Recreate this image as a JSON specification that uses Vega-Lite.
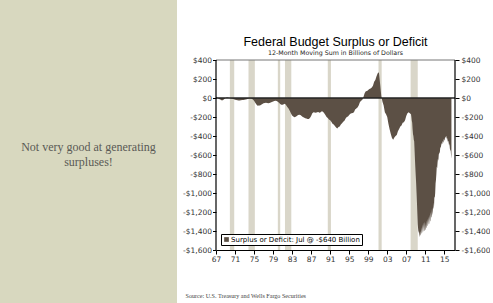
{
  "$schema": "https://vega.github.io/schema/vega-lite/v6.json",
  "padding": 0,
  "background": "white",
  "spacing": 39,
  "bounds": "flush",
  "center": true,
  "resolve": {"legend": {"color": "independent"}},
  "config": {
    "view": {"stroke": null},
    "axis": {"labelFont": "DejaVu Sans", "labelFontSize": 7.5, "labelColor": "#333", "tickColor": "#000", "domainColor": "#000", "grid": false}
  },
  "hconcat": [
    {
      "width": 177,
      "height": 303,
      "view": {"fill": "#d8d8bf", "stroke": null},
      "data": {"values": [{"note": "Not very good at generating\nsurpluses!"}]},
      "mark": {"type": "text", "font": "Liberation Serif", "fontSize": 12, "color": "#5a5a55", "lineBreak": "\n", "lineHeight": 14.5, "align": "center", "baseline": "middle", "dy": -4.5},
      "encoding": {"text": {"field": "note"}}
    },
    {
      "width": 239,
      "height": 197,
      "title": {
        "text": "Federal Budget Surplus or Deficit",
        "subtitle": "12-Month Moving Sum in Billions of Dollars",
        "anchor": "middle",
        "frame": "group",
        "font": "Liberation Sans",
        "fontSize": 12.5,
        "fontWeight": "normal",
        "color": "#000",
        "subtitleFont": "DejaVu Sans",
        "subtitleFontSize": 6.3,
        "subtitleColor": "#222",
        "subtitlePadding": 1,
        "offset": -3
      },
      "resolve": {"axis": {"y": "independent"}},
      "layer": [
        {
          "data": {"values": [
            {"start": 1969.917, "end": 1970.833},
            {"start": 1973.833, "end": 1975.167},
            {"start": 1980.0, "end": 1980.5},
            {"start": 1981.5, "end": 1982.833},
            {"start": 1990.5, "end": 1991.167},
            {"start": 2001.167, "end": 2001.833},
            {"start": 2007.917, "end": 2009.417}
          ]},
          "mark": {"type": "rect", "color": "#d9d6c9"},
          "encoding": {
            "x": {
              "field": "start", "type": "quantitative",
              "scale": {"domain": [1967, 2017.25], "nice": false, "zero": false},
              "axis": {
                "values": [1967, 1971, 1975, 1979, 1983, 1987, 1991, 1995, 1999, 2003, 2007, 2011, 2015],
                "tickCount": 20,
                "labelExpr": "substring(toString(datum.value), 2, 4)",
                "labelFlush": false,
                "labelOverlap": false,
                "tickSize": 4,
                "labelPadding": 1,
                "title": "Source:  U.S. Treasury and Wells Fargo Securities",
                "titleFont": "Liberation Serif",
                "titleFontSize": 6.1,
                "titleFontWeight": "normal",
                "titleColor": "#444",
                "titleAnchor": "start",
                "titleAlign": "left",
                "titleBaseline": "middle",
                "titleX": -31,
                "titleY": 45
              }
            },
            "x2": {"field": "end"},
            "y": {"datum": 400, "type": "quantitative", "scale": {"domain": [-1600, 473.7], "nice": false}, "axis": null},
            "y2": {"datum": -1600}
          }
        },
        {
          "data": {"values": [
            {"year": 1967.0, "value": 15}, {"year": 1967.25, "value": 5}, {"year": 1967.5, "value": -5}, {"year": 1967.75, "value": -12},
            {"year": 1968.0, "value": -18}, {"year": 1968.25, "value": -25}, {"year": 1968.5, "value": -22}, {"year": 1968.75, "value": -10},
            {"year": 1969.0, "value": 0}, {"year": 1969.25, "value": 5}, {"year": 1969.5, "value": 4}, {"year": 1969.75, "value": 0},
            {"year": 1970.0, "value": -2}, {"year": 1970.25, "value": -4}, {"year": 1970.5, "value": -8}, {"year": 1970.75, "value": -14},
            {"year": 1971.0, "value": -18}, {"year": 1971.25, "value": -22}, {"year": 1971.5, "value": -24}, {"year": 1971.75, "value": -26},
            {"year": 1972.0, "value": -25}, {"year": 1972.25, "value": -23}, {"year": 1972.5, "value": -22}, {"year": 1972.75, "value": -20},
            {"year": 1973.0, "value": -18}, {"year": 1973.25, "value": -15}, {"year": 1973.5, "value": -12}, {"year": 1973.75, "value": -8},
            {"year": 1974.0, "value": -6}, {"year": 1974.25, "value": -5}, {"year": 1974.5, "value": -8}, {"year": 1974.75, "value": -15},
            {"year": 1975.0, "value": -30}, {"year": 1975.25, "value": -50}, {"year": 1975.5, "value": -68}, {"year": 1975.75, "value": -82},
            {"year": 1976.0, "value": -80}, {"year": 1976.25, "value": -78}, {"year": 1976.5, "value": -70}, {"year": 1976.75, "value": -62},
            {"year": 1977.0, "value": -56}, {"year": 1977.25, "value": -52}, {"year": 1977.5, "value": -50}, {"year": 1977.75, "value": -52},
            {"year": 1978.0, "value": -55}, {"year": 1978.25, "value": -52}, {"year": 1978.5, "value": -48}, {"year": 1978.75, "value": -42},
            {"year": 1979.0, "value": -38}, {"year": 1979.25, "value": -32}, {"year": 1979.5, "value": -30}, {"year": 1979.75, "value": -32},
            {"year": 1980.0, "value": -40}, {"year": 1980.25, "value": -50}, {"year": 1980.5, "value": -62}, {"year": 1980.75, "value": -70},
            {"year": 1981.0, "value": -72}, {"year": 1981.25, "value": -65}, {"year": 1981.5, "value": -60}, {"year": 1981.75, "value": -75},
            {"year": 1982.0, "value": -95}, {"year": 1982.25, "value": -110}, {"year": 1982.5, "value": -135}, {"year": 1982.75, "value": -160},
            {"year": 1983.0, "value": -185}, {"year": 1983.25, "value": -195}, {"year": 1983.5, "value": -202}, {"year": 1983.75, "value": -198},
            {"year": 1984.0, "value": -190}, {"year": 1984.25, "value": -180}, {"year": 1984.5, "value": -175}, {"year": 1984.75, "value": -180},
            {"year": 1985.0, "value": -190}, {"year": 1985.25, "value": -200}, {"year": 1985.5, "value": -205}, {"year": 1985.75, "value": -212},
            {"year": 1986.0, "value": -215}, {"year": 1986.25, "value": -220}, {"year": 1986.5, "value": -222}, {"year": 1986.75, "value": -210},
            {"year": 1987.0, "value": -190}, {"year": 1987.25, "value": -160}, {"year": 1987.5, "value": -150}, {"year": 1987.75, "value": -152},
            {"year": 1988.0, "value": -155}, {"year": 1988.25, "value": -150}, {"year": 1988.5, "value": -148}, {"year": 1988.75, "value": -155},
            {"year": 1989.0, "value": -150}, {"year": 1989.25, "value": -140}, {"year": 1989.5, "value": -145}, {"year": 1989.75, "value": -160},
            {"year": 1990.0, "value": -180}, {"year": 1990.25, "value": -200}, {"year": 1990.5, "value": -210}, {"year": 1990.75, "value": -225},
            {"year": 1991.0, "value": -235}, {"year": 1991.25, "value": -250}, {"year": 1991.5, "value": -270}, {"year": 1991.75, "value": -280},
            {"year": 1992.0, "value": -295}, {"year": 1992.25, "value": -310}, {"year": 1992.5, "value": -322}, {"year": 1992.75, "value": -305},
            {"year": 1993.0, "value": -300}, {"year": 1993.25, "value": -280}, {"year": 1993.5, "value": -265}, {"year": 1993.75, "value": -250},
            {"year": 1994.0, "value": -240}, {"year": 1994.25, "value": -215}, {"year": 1994.5, "value": -200}, {"year": 1994.75, "value": -195},
            {"year": 1995.0, "value": -180}, {"year": 1995.25, "value": -165}, {"year": 1995.5, "value": -160}, {"year": 1995.75, "value": -158},
            {"year": 1996.0, "value": -150}, {"year": 1996.25, "value": -120}, {"year": 1996.5, "value": -110}, {"year": 1996.75, "value": -100},
            {"year": 1997.0, "value": -80}, {"year": 1997.25, "value": -45}, {"year": 1997.5, "value": -30}, {"year": 1997.75, "value": -20},
            {"year": 1998.0, "value": 10}, {"year": 1998.25, "value": 50}, {"year": 1998.5, "value": 70}, {"year": 1998.75, "value": 75},
            {"year": 1999.0, "value": 85}, {"year": 1999.25, "value": 95}, {"year": 1999.5, "value": 100}, {"year": 1999.75, "value": 110},
            {"year": 2000.0, "value": 130}, {"year": 2000.25, "value": 170}, {"year": 2000.5, "value": 190}, {"year": 2000.75, "value": 230},
            {"year": 2001.0, "value": 260}, {"year": 2001.25, "value": 272}, {"year": 2001.5, "value": 150}, {"year": 2001.75, "value": 20},
            {"year": 2002.0, "value": -40}, {"year": 2002.25, "value": -80}, {"year": 2002.5, "value": -150}, {"year": 2002.75, "value": -170},
            {"year": 2003.0, "value": -200}, {"year": 2003.25, "value": -270}, {"year": 2003.5, "value": -330}, {"year": 2003.75, "value": -380},
            {"year": 2004.0, "value": -420}, {"year": 2004.25, "value": -440}, {"year": 2004.5, "value": -415}, {"year": 2004.75, "value": -400},
            {"year": 2005.0, "value": -390}, {"year": 2005.25, "value": -350}, {"year": 2005.5, "value": -325}, {"year": 2005.75, "value": -300},
            {"year": 2006.0, "value": -290}, {"year": 2006.25, "value": -260}, {"year": 2006.5, "value": -255}, {"year": 2006.75, "value": -235},
            {"year": 2007.0, "value": -190}, {"year": 2007.25, "value": -160}, {"year": 2007.5, "value": -150}, {"year": 2007.75, "value": -160},
            {"year": 2008.0, "value": -170}, {"year": 2008.083, "value": -200}, {"year": 2008.167, "value": -240}, {"year": 2008.25, "value": -260},
            {"year": 2008.333, "value": -330}, {"year": 2008.417, "value": -380}, {"year": 2008.5, "value": -400}, {"year": 2008.583, "value": -440},
            {"year": 2008.667, "value": -455}, {"year": 2008.75, "value": -550}, {"year": 2008.833, "value": -650}, {"year": 2008.917, "value": -740},
            {"year": 2009.0, "value": -820}, {"year": 2009.083, "value": -900}, {"year": 2009.167, "value": -1000}, {"year": 2009.25, "value": -1100},
            {"year": 2009.333, "value": -1220}, {"year": 2009.417, "value": -1330}, {"year": 2009.5, "value": -1380}, {"year": 2009.583, "value": -1420},
            {"year": 2009.667, "value": -1400}, {"year": 2009.75, "value": -1440}, {"year": 2009.833, "value": -1465}, {"year": 2009.917, "value": -1400},
            {"year": 2010.0, "value": -1440}, {"year": 2010.083, "value": -1450}, {"year": 2010.167, "value": -1360}, {"year": 2010.25, "value": -1430},
            {"year": 2010.333, "value": -1420}, {"year": 2010.417, "value": -1330}, {"year": 2010.5, "value": -1410}, {"year": 2010.583, "value": -1400},
            {"year": 2010.667, "value": -1310}, {"year": 2010.75, "value": -1400}, {"year": 2010.833, "value": -1395}, {"year": 2010.917, "value": -1300},
            {"year": 2011.0, "value": -1390}, {"year": 2011.083, "value": -1385}, {"year": 2011.167, "value": -1290}, {"year": 2011.25, "value": -1370},
            {"year": 2011.333, "value": -1360}, {"year": 2011.417, "value": -1270}, {"year": 2011.5, "value": -1350}, {"year": 2011.583, "value": -1340},
            {"year": 2011.667, "value": -1250}, {"year": 2011.75, "value": -1330}, {"year": 2011.833, "value": -1320}, {"year": 2011.917, "value": -1230},
            {"year": 2012.0, "value": -1300}, {"year": 2012.083, "value": -1290}, {"year": 2012.167, "value": -1200}, {"year": 2012.25, "value": -1260},
            {"year": 2012.333, "value": -1250}, {"year": 2012.417, "value": -1160}, {"year": 2012.5, "value": -1235}, {"year": 2012.583, "value": -1200},
            {"year": 2012.667, "value": -1100}, {"year": 2012.75, "value": -1170}, {"year": 2012.833, "value": -1150}, {"year": 2012.917, "value": -1040},
            {"year": 2013.0, "value": -1050}, {"year": 2013.083, "value": -1000}, {"year": 2013.167, "value": -900}, {"year": 2013.25, "value": -860},
            {"year": 2013.333, "value": -800}, {"year": 2013.417, "value": -720}, {"year": 2013.5, "value": -740}, {"year": 2013.583, "value": -680},
            {"year": 2013.667, "value": -640}, {"year": 2013.75, "value": -660}, {"year": 2013.833, "value": -600}, {"year": 2013.917, "value": -570},
            {"year": 2014.0, "value": -590}, {"year": 2014.083, "value": -560}, {"year": 2014.167, "value": -510}, {"year": 2014.25, "value": -530},
            {"year": 2014.333, "value": -500}, {"year": 2014.417, "value": -470}, {"year": 2014.5, "value": -490}, {"year": 2014.583, "value": -480},
            {"year": 2014.667, "value": -450}, {"year": 2014.75, "value": -470}, {"year": 2014.833, "value": -460}, {"year": 2014.917, "value": -430},
            {"year": 2015.0, "value": -450}, {"year": 2015.083, "value": -440}, {"year": 2015.167, "value": -410}, {"year": 2015.25, "value": -420},
            {"year": 2015.333, "value": -405}, {"year": 2015.417, "value": -400}, {"year": 2015.5, "value": -430}, {"year": 2015.583, "value": -420},
            {"year": 2015.667, "value": -440}, {"year": 2015.75, "value": -460}, {"year": 2015.833, "value": -450}, {"year": 2015.917, "value": -470},
            {"year": 2016.0, "value": -500}, {"year": 2016.083, "value": -480}, {"year": 2016.167, "value": -530}, {"year": 2016.25, "value": -560},
            {"year": 2016.333, "value": -540}, {"year": 2016.417, "value": -600}, {"year": 2016.5, "value": -640}
          ]},
          "mark": {"type": "area", "interpolate": "linear"},
          "encoding": {
            "x": {"field": "year", "type": "quantitative"},
            "y": {
              "field": "value", "type": "quantitative",
              "scale": {"domain": [-1600, 473.7], "nice": false},
              "axis": {
                "orient": "left",
                "values": [-1600, -1400, -1200, -1000, -800, -600, -400, -200, 0, 200, 400],
                "tickCount": 20,
                "title": null,
                "domain": false,
                "tickSize": 3.5,
                "labelPadding": 1,
                "labelExpr": "(datum.value < 0 ? '-' : '') + '$' + format(abs(datum.value), ',')"
              }
            },
            "color": {
              "datum": "Surplus or Deficit: Jul @ -$640 Billion",
              "scale": {"range": ["#5c5045"]},
              "legend": {
                "title": null,
                "orient": "bottom-left",
                "offset": 5,
                "symbolType": "square",
                "symbolSize": 22,
                "symbolStrokeWidth": 0,
                "labelFont": "DejaVu Sans",
                "labelFontSize": 7,
                "labelColor": "#000",
                "labelOffset": 1,
                "strokeColor": "#000",
                "fillColor": "#fff",
                "padding": 2,
                "cornerRadius": 0
              }
            }
          }
        },
        {
          "data": {"values": [{}]},
          "mark": {"type": "rule", "color": "#222", "strokeWidth": 1.4},
          "encoding": {
            "y": {
              "datum": 0, "type": "quantitative",
              "scale": {"domain": [-1600, 473.7], "nice": false},
              "axis": {
                "orient": "right",
                "values": [-1600, -1400, -1200, -1000, -800, -600, -400, -200, 0, 200, 400],
                "tickCount": 20,
                "title": null,
                "domain": false,
                "tickSize": 4,
                "labelPadding": 2,
                "labelExpr": "(datum.value < 0 ? '-' : '') + '$' + format(abs(datum.value), ',')"
              }
            }
          }
        },
        {
          "data": {"values": [{}]},
          "mark": {"type": "rule", "color": "#777", "strokeWidth": 1},
          "encoding": {
            "y": {"datum": 400, "type": "quantitative", "axis": null}
          }
        },
        {
          "data": {"values": [{}]},
          "mark": {"type": "rule", "color": "#000", "strokeWidth": 1.2},
          "encoding": {
            "x": {"datum": 1967, "type": "quantitative"},
            "y": {"datum": 400, "type": "quantitative", "axis": null},
            "y2": {"datum": -1600}
          }
        },
        {
          "data": {"values": [{}]},
          "mark": {"type": "rule", "color": "#000", "strokeWidth": 1.2},
          "encoding": {
            "x": {"datum": 2017.25, "type": "quantitative"},
            "y": {"datum": 400, "type": "quantitative", "axis": null},
            "y2": {"datum": -1600}
          }
        }
      ]
    }
  ]
}
